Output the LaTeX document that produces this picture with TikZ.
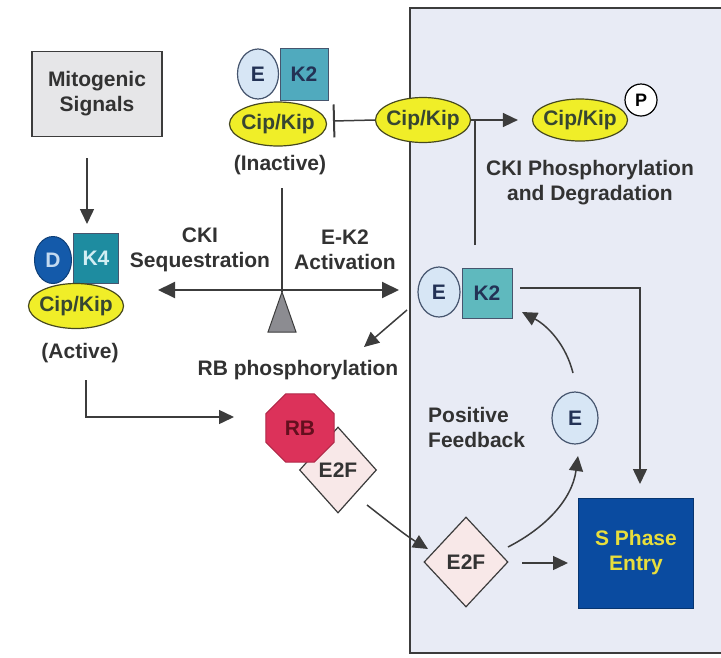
\documentclass[tikz,border=0pt]{standalone}
\usepackage{fontspec}
\setmainfont{Liberation Sans}
\usetikzlibrary{arrows.meta,shapes.geometric}
\definecolor{bgblue}{RGB}{232,235,245}
\definecolor{boxgray}{RGB}{230,230,232}
\definecolor{cipy}{RGB}{240,238,40}
\definecolor{cipline}{RGB}{70,72,30}
\definecolor{ciptext}{RGB}{55,70,50}
\definecolor{efill}{RGB}{215,230,245}
\definecolor{eline}{RGB}{70,85,110}
\definecolor{etext}{RGB}{35,50,85}
\definecolor{dfill}{RGB}{20,90,170}
\definecolor{dtext}{RGB}{195,218,240}
\definecolor{kfour}{RGB}{30,140,160}
\definecolor{kfourtext}{RGB}{210,238,244}
\definecolor{ktwoi}{RGB}{80,170,190}
\definecolor{ktwoa}{RGB}{95,185,190}
\definecolor{rbfill}{RGB}{220,50,90}
\definecolor{rbtext}{RGB}{100,15,30}
\definecolor{etwof}{RGB}{248,232,232}
\definecolor{sfill}{RGB}{10,75,160}
\definecolor{stext}{RGB}{232,222,60}
\definecolor{txt}{RGB}{50,50,50}
\definecolor{ln}{RGB}{60,60,60}
\definecolor{fulcgray}{RGB}{140,140,145}
\tikzset{
  bigfont/.style={font=\fontsize{21}{25}\selectfont\bfseries},
  lbl/.style={bigfont, text=txt, align=center, inner sep=0pt},
  cip/.style={ellipse, draw=cipline, line width=1.2pt, fill=cipy, minimum width=95pt, minimum height=45pt, inner sep=-3.5pt, bigfont, text=ciptext},
  ecirc/.style={ellipse, draw=eline, line width=1.2pt, fill=efill, minimum width=41pt, minimum height=50pt, inner sep=0pt, bigfont, text=etext},
  kbox/.style={rectangle, draw=eline, line width=1pt, minimum width=48pt, minimum height=52pt, inner sep=0pt, bigfont},
  e2fbox/.style={diamond, draw=ln, line width=1.2pt, fill=etwof, inner sep=0pt, bigfont, text=black!80},
  conn/.style={draw=ln, line width=1.5pt},
  arr/.style={conn, -{Triangle[length=15pt,width=14pt]}},
  darr/.style={conn, line width=2pt, {Triangle[length=17pt,width=16pt]}-{Triangle[length=17pt,width=16pt]}},
}
\begin{document}
\begin{tikzpicture}[x=1pt,y=-1pt]
\useasboundingbox (0,0) rectangle (721,657);
% shaded region
\fill[bgblue] (410,8) rectangle (725,653);
\draw[ln, line width=1.5pt] (725,8) -- (410,8) -- (410,653) -- (725,653);

% Mitogenic signals
\node[rectangle, draw=ln, line width=1.5pt, fill=boxgray, minimum width=130pt, minimum height=85pt, lbl] (mito) at (97,94) {Mitogenic\\Signals};

% Cyclin D - K4 complex (active)
\node[ellipse, draw=dfill!70!black, line width=1pt, fill=dfill, minimum width=37pt, minimum height=47pt, inner sep=0pt, bigfont, text=dtext] (D) at (53,260) {D};
\node[kbox, fill=kfour, text=kfourtext, minimum width=45pt, minimum height=50pt] (K4) at (96,258) {K4};
\node[cip] (cipA) at (76,306) {Cip/Kip};
\node[lbl] (active) at (80,353) {(Active)};

% Cyclin E - K2 complex (inactive)
\node[ecirc] (Ei) at (258,74) {E};
\node[kbox, fill=ktwoi, text=etext] (K2i) at (304,74) {K2};
\node[cip, minimum width=97pt, minimum height=44pt] (cipI) at (278,124) {Cip/Kip};
\node[lbl] (inact) at (280,165) {(Inactive)};

% free / phosphorylated CKI
\node[cip] (cipM) at (423,120) {Cip/Kip};
\node[cip, minimum height=42pt] (cipP) at (580,120) {Cip/Kip};
\node[circle, draw=black, line width=1.2pt, fill=white, minimum size=32pt, inner sep=0pt, font=\fontsize{18}{22}\selectfont\bfseries] (P) at (641,100) {P};
\node[lbl] (deg) at (590,183) {CKI Phosphorylation\\and Degradation};

% active E-K2
\node[ecirc, minimum width=42pt] (Ea) at (439,292) {E};
\node[kbox, fill=ktwoa, text=etext, minimum width=50pt, minimum height=50pt] (K2a) at (487,293) {K2};

% labels
\node[lbl] (seq) at (200,250) {CKI\\Sequestration};
\node[lbl] (act) at (345,250) {E-K2\\Activation};
\node[lbl] (rbp) at (298,370) {RB phosphorylation};
\node[lbl, align=left, anchor=west] (pf) at (428,427) {Positive\\Feedback};

% small E
\node[ecirc, minimum width=46pt, minimum height=52pt] (Es) at (575,418) {E};

% RB / E2F
\node[e2fbox, minimum width=77pt, minimum height=86pt] (E2Fb) at (338,470) {\raisebox{-4pt}{E2F}};
\node[regular polygon, regular polygon sides=8, draw=rbfill!80!black, line width=1pt, fill=rbfill, minimum size=74pt, inner sep=0pt, bigfont, text=rbtext] (RB) at (300,428) {RB};
\node[e2fbox, minimum width=84pt, minimum height=90pt] (E2Ff) at (466,562) {E2F};

% S phase entry
\node[rectangle, draw=sfill!70!black, line width=1pt, fill=sfill, minimum width=115pt, minimum height=110pt, inner sep=0pt, align=center, bigfont, text=stext] (sph) at (636,553) {S Phase\\Entry};

% fulcrum
\coordinate (fulc) at (282,292);
\fill[fulcgray] (fulc) -- (268,332) -- (296,332) -- cycle;
\draw[ln, line width=1pt] (fulc) -- (268,332) -- (296,332) -- cycle;

% free ends
\coordinate (m1) at (87,158);
\coordinate (m2) at (87,224);
\coordinate (a1) at (86,380);
\coordinate (a2) at (234,417);
\coordinate (bar) at (333,121);
\coordinate (inbot) at (282,188);
\coordinate (sqL) at (158,290);
\coordinate (acR) at (399,290);
\coordinate (ek2top) at (475,245);
\coordinate (junc) at (475,120);
\coordinate (r1) at (407,310);
\coordinate (r2) at (364,347);
\coordinate (k2r) at (520,288);
\coordinate (stop) at (640,484);
\coordinate (fb1) at (573,373);
\coordinate (fb2) at (522,312);
\coordinate (eb1) at (367,505);
\coordinate (eb2) at (428,549);
\coordinate (ef1) at (522,563);
\coordinate (ef2) at (568,563);
\coordinate (ee1) at (508,547);
\coordinate (ee2) at (578,456);

% connectors
\draw[arr] (m1) -- (m2);
\draw[arr] (a1) |- (a2);
\draw[conn, {Bar[width=33pt,line width=2pt]}-] (bar) -- (cipM.west);
\draw[conn] (inbot) -- (fulc);
\draw[darr] (sqL) -- (acR);
\draw[conn] (ek2top) -- (junc);
\draw[arr, shorten >=14pt] (cipM.east) -- (cipP.west);
\draw[arr] (r1) -- (r2);
\draw[arr] (k2r) -| (stop);
\draw[arr] (fb1) .. controls (566,345) and (548,326) .. (fb2);
\draw[arr] (eb1) .. controls (385,519) and (405,535) .. (eb2);
\draw[arr] (ef1) -- (ef2);
\draw[arr] (ee1) .. controls (545,528) and (572,500) .. (ee2);
\end{tikzpicture}
\end{document}
